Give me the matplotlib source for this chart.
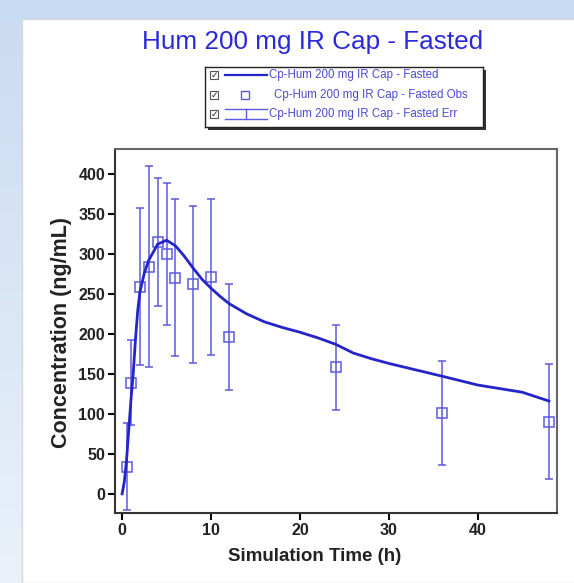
import numpy as np
import matplotlib.pyplot as plt
from matplotlib.patches import Rectangle
from matplotlib.lines import Line2D

# simulated profile
sim_time = [0, 0.25, 0.5, 0.75, 1, 1.25, 1.5, 1.75, 2, 2.5, 3, 4, 5, 6, 7, 8, 9, 10,
            11, 12, 14, 16, 18, 20, 22, 24, 26, 28, 30, 33, 36, 40, 45, 48]
sim_conc = [0, 15, 42, 80, 118, 150, 192, 228, 252, 276, 292, 312, 317, 310, 297, 282,
            268, 257, 247, 238, 225, 215, 208, 202, 195, 187, 176, 169, 163, 155, 147,
            136, 127, 116]

# observed mean +/- sd
obs_time = [0.5, 1, 2, 3, 4, 5, 6, 8, 10, 12, 24, 36, 48]
obs_conc = [34, 139, 259, 284, 315, 300, 270, 262, 271, 196, 158, 101, 90]
obs_sd = [54, 53, 98, 126, 80, 89, 98, 98, 98, 66, 53, 65, 72]

title = "Hum 200 mg IR Cap - Fasted"
labels = ["Cp-Hum 200 mg IR Cap - Fasted",
          "Cp-Hum 200 mg IR Cap - Fasted Obs",
          "Cp-Hum 200 mg IR Cap - Fasted Err"]

line_col = "#2424c8"
obs_col = "#5a5ae0"
plt.rcParams['font.family'] = ['Liberation Sans', 'DejaVu Sans']

fig = plt.figure(figsize=(5.74, 5.83), dpi=100)

# slide-like background: blue gradient with a white panel
bg = fig.add_axes([0, 0, 1, 1], zorder=-10)
grad = np.linspace(0, 1, 200).reshape(-1, 1) * np.ones((1, 10))
bg.imshow(grad, aspect='auto', cmap=plt.matplotlib.colors.LinearSegmentedColormap.from_list(
    'g', ['#c9dbf2', '#eaf1fa']), extent=[0, 1, 0, 1])
bg.add_patch(Rectangle((22 / 574, 0), 1, 1 - 19 / 583, facecolor='white',
                       edgecolor='#d8d8d8', lw=1))
bg.set_xlim(0, 1)
bg.set_ylim(0, 1)
bg.axis('off')

ax = fig.add_axes([0.2003, 0.120, 0.770, 0.6244])
ax.plot(sim_time, sim_conc, color=line_col, lw=2, zorder=3)
ax.errorbar(obs_time, obs_conc, yerr=obs_sd, fmt='s', ms=7, mfc='none', mec=obs_col,
            mew=1.1, ecolor=obs_col, elinewidth=1.1, capsize=3, capthick=1.1, zorder=2)

ax.set_xlim(-0.8, 48.9)
ax.set_ylim(-24, 431)
ax.set_xticks([0, 10, 20, 30, 40])
ax.set_yticks(range(0, 401, 50))
ax.tick_params(direction='out', length=5, width=1.5, labelsize=11.5, pad=2)
for lab in ax.get_xticklabels() + ax.get_yticklabels():
    lab.set_fontweight('bold')
    lab.set_color('#222222')
for s in ax.spines.values():
    s.set_linewidth(1.5)
    s.set_color('#333333')
ax.spines['right'].set_color('#666666')
ax.spines['top'].set_color('#666666')
ax.set_xlabel("Simulation Time (h)", fontsize=13.5, fontweight='bold', color='#222222')
ax.set_ylabel("Concentration (ng/mL)", fontsize=15.5, fontweight='bold', color='#222222')
ax.xaxis.set_label_coords(0.452, -0.095)
ax.yaxis.set_label_coords(-0.097, 0.495)

fig.text(313 / 574, 1 - 42 / 583, title, ha='center', va='center', fontsize=18.8, color='#2a2ad8')

# legend box drawn as small axes
sh = fig.add_axes([208 / 574, 1 - 130 / 583, 278 / 574, 60 / 583])
sh.set_facecolor('#333333')
sh.set_xticks([])
sh.set_yticks([])
for s in sh.spines.values():
    s.set_visible(False)
lg = fig.add_axes([205 / 574, 1 - 127 / 583, 278 / 574, 60 / 583])
lg.set_xlim(0, 278)
lg.set_ylim(60, 0)
lg.set_xticks([])
lg.set_yticks([])
for s in lg.spines.values():
    s.set_color('#222222')
    s.set_linewidth(1)
rows = [8, 28, 47]
text_x = [64, 69, 64]
for r, lab, tx in zip(rows, labels, text_x):
    lg.add_patch(Rectangle((5, r - 4), 8, 8, facecolor='white', edgecolor='#555555', lw=0.8))
    lg.text(9, r, "✓", ha='center', va='center', fontsize=6.5, color='#222222',
            family=['DejaVu Sans'])
    lg.text(tx, r, lab, ha='left', va='center', fontsize=8.3, color='#4a4ad0')
lg.add_line(Line2D([20, 62], [rows[0], rows[0]], color=line_col, lw=1.6))
lg.add_line(Line2D([40], [rows[1]], marker='s', ms=6, mfc='none', mec=obs_col, mew=1))
lg.add_line(Line2D([20, 62], [rows[2] + 5, rows[2] + 5], color=obs_col, lw=1))
lg.add_line(Line2D([20, 62], [rows[2] - 5, rows[2] - 5], color=obs_col, lw=1))
lg.add_line(Line2D([41, 41], [rows[2] - 5, rows[2] + 5], color=obs_col, lw=1))

fig.savefig("out.png", dpi=100)
